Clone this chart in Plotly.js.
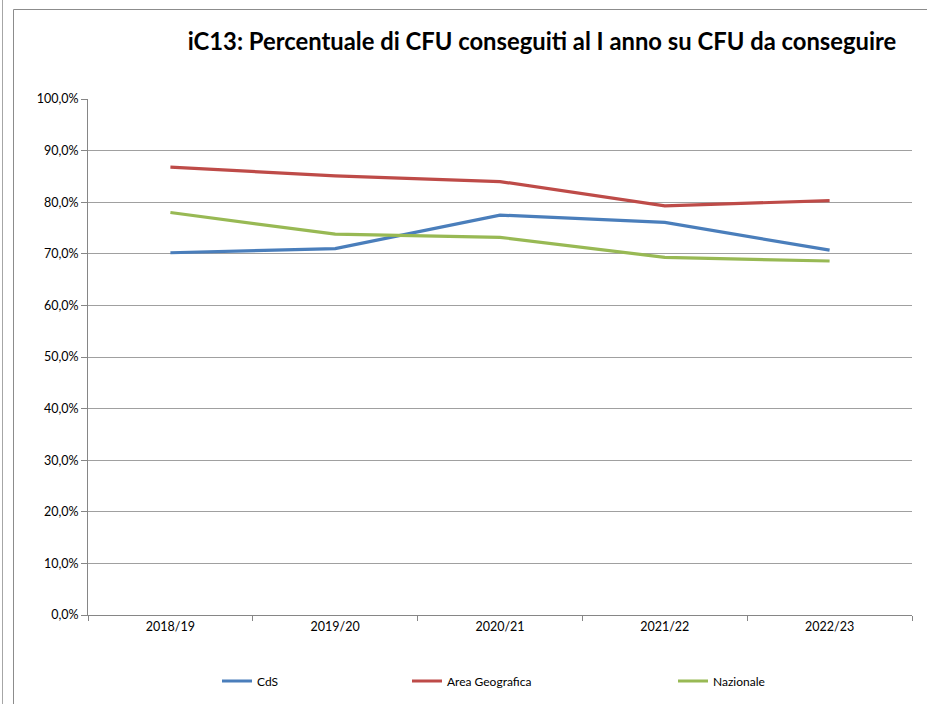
<!DOCTYPE html>
<html><head><meta charset="utf-8">
<script src="https://cdn.plot.ly/plotly-3.0.1.min.js"></script>
<style>html,body{margin:0;padding:0;background:#fff}#chart{width:927px;height:704px}</style>
</head><body><div id="chart"></div>
<script>
const categories = ["2018/19","2019/20","2020/21","2021/22","2022/23"];
const cds = [70.2, 71.0, 77.5, 76.1, 70.7];
const areaGeografica = [86.8, 85.1, 84.0, 79.3, 80.3];
const nazionale = [78.0, 73.8, 73.2, 69.3, 68.6];
const seriesNames = ["CdS","Area Geografica","Nazionale"];
const yTicks = [0,10,20,30,40,50,60,70,80,90,100];
const yTickText = yTicks.map(v => v.toFixed(1).replace('.', ',') + '%');

const F = "Lato, 'Open Sans', sans-serif";
const colors = ["#4a7ebb","#be4b48","#98b954"];
const data = [cds, areaGeografica, nazionale].map((v,i)=>({
  x: categories, y: v, type:'scatter', mode:'lines', name: seriesNames[i], showlegend:true,
  line:{color:colors[i], width:3.2}, legend: i===0?'legend':('legend'+(i+1))
}));
const W=824, H=516;
const px = x => (x-88)/W;
const py = y => (615-y)/H;
const legStyle = (x)=>({x:px(x), y:py(681), xanchor:'left', yanchor:'middle', orientation:'h',
  font:{family:F,size:12,color:'#000'}, bgcolor:'rgba(0,0,0,0)', itemwidth:30, tracegroupgap:0});
const layout = {
  width:927, height:704, showlegend:true,
  margin:{l:88, r:15, t:99, b:89, autoexpand:false},
  paper_bgcolor:'#fff', plot_bgcolor:'#fff',
  title:{text:'<b>iC13: Percentuale di CFU conseguiti al I anno su CFU da conseguire</b>',
    font:{family:F, size:23.8, color:'#000'}, x:px(542), xanchor:'center', xref:'paper',
    y:1-(42/704), yanchor:'middle', yref:'container'},
  xaxis:{type:'category', tickson:'boundaries', ticks:'outside', ticklen:5, tickcolor:'#868686',
    showline:true, linecolor:'#868686', linewidth:1, showgrid:false, mirror:false,
    tickfont:{family:F, size:12.5, color:'#000'}, range:[-0.5,4.5], automargin:false},
  yaxis:{range:[0,100], tickvals:yTicks, ticktext:yTickText, tickmode:'array',
    ticks:'outside', ticklen:6, tickcolor:'#868686', showline:true, linecolor:'#868686',
    gridcolor:'#a0a0a0', gridwidth:1, zeroline:false, automargin:false,
    tickfont:{family:F, size:12.5, color:'#000'}},
  legend: legStyle(217),
  legend2: legStyle(407),
  legend3: legStyle(673),
  shapes:[
    {type:'line', xref:'paper', yref:'paper', x0:px(2.5), x1:px(2.5), y0:py(0), y1:py(704), line:{color:'#a6a6a6', width:1}},
    {type:'line', xref:'paper', yref:'paper', x0:px(13.5), x1:px(13.5), y0:py(9.5), y1:py(704), line:{color:'#8c8c8c', width:1}},
    {type:'line', xref:'paper', yref:'paper', x0:px(13.5), x1:px(927), y0:py(9.5), y1:py(9.5), line:{color:'#8c8c8c', width:1}}
  ]
};
Plotly.newPlot('chart', data, layout, {displayModeBar:false, staticPlot:true});
</script></body></html>
